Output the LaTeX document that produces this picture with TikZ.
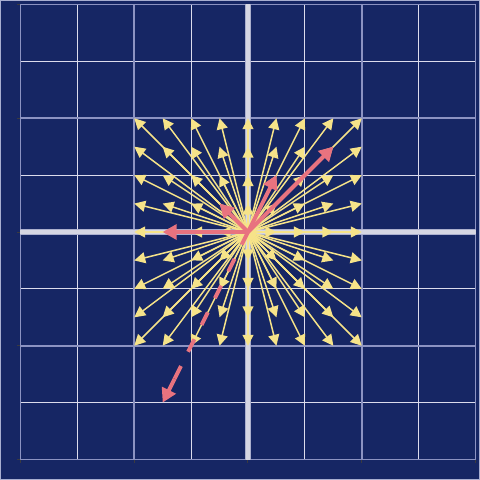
\documentclass[tikz,border=0pt]{standalone}
\usetikzlibrary{arrows.meta,calc}
\definecolor{bgblue}{HTML}{162664}
\definecolor{majgrid}{HTML}{8C93C2}
\definecolor{mingrid}{HTML}{DCDCEC}
\definecolor{axout}{HTML}{ABAFCD}
\definecolor{axin}{HTML}{D6D6E2}
\definecolor{vyellow}{HTML}{F6E389}
\definecolor{vpink}{HTML}{E8737F}
\definecolor{frame}{HTML}{A8AED0}
\definecolor{tickc}{HTML}{3A3A40}
\tikzset{
  majorline/.style={majgrid, line width=0.8pt},
  minorline/.style={mingrid, line width=0.5pt},
  vec/.style={vyellow, line width=0.75pt, -{Triangle[length=5.5pt,width=5.5pt]}},
  pinkvec/.style={vpink, line width=2pt, -{Triangle[length=7pt,width=7.5pt]}},
  pinkdash/.style={vpink, line width=2pt, dash pattern=on 7pt off 8pt},
  tickmark/.style={tickc, line width=0.5pt}
}
\begin{document}
\begin{tikzpicture}[x=1cm,y=1cm]
\fill[bgblue] (-4.3604,-4.3604) rectangle (4.0791,4.0791);
\useasboundingbox (-4.3604,-4.3604) rectangle (4.0791,4.0791);
\draw[frame, line width=0.5pt] (-4.3560,-4.3560) rectangle (4.0747,4.0747);
% grid
\foreach \k in {-3,-1,1,3}{
  \draw[minorline] (\k,-4) -- (\k,4);
  \draw[minorline] (-4,\k) -- (4,\k);
}
\foreach \k in {-4,-2,2,4}{
  \draw[majorline] (\k,-4) -- (\k,4);
  \draw[majorline] (-4,\k) -- (4,\k);
}
% ticks
\foreach \k in {-4,-2,0,2,4}{
  \draw[tickmark] (-4,\k) -- (-4.06,\k);
  \draw[tickmark] (\k,-4) -- (\k,-4.06);
}
% axes
\draw[axout, line width=3.5pt] (-4,0) -- (4,0);
\draw[axout, line width=3.5pt] (0,-4) -- (0,4);
\draw[axin, line width=1.8pt] (-4,0) -- (4,0);
\draw[axin, line width=1.8pt] (0,-4) -- (0,4);
\coordinate (O) at (0,0);
% yellow field
\foreach \i in {-4,...,4}{
  \foreach \j in {-4,...,4}{
    \ifnum\numexpr\i*\i+\j*\j\relax>0
      \draw[vec] (O) -- (\i/2,\j/2);
    \fi
  }
}
% pink vectors
\coordinate (P1) at (-1.5,0);
\coordinate (P2) at (-0.5,0.5);
\coordinate (P3) at (0.5,1);
\coordinate (P4) at (1.5,1.5);
\coordinate (P5) at (-1.5,-3);
\draw[pinkvec] (O) -- (P1);
\draw[pinkvec] (O) -- (P2);
\draw[pinkvec] (O) -- (P3);
\draw[pinkvec] (O) -- (P4);
\coordinate (P5s) at ($(O)!0.86!(P5)$);
\draw[pinkdash] (O) -- (P5s);
\draw[pinkvec] (P5s) -- (P5);
\end{tikzpicture}
\end{document}
